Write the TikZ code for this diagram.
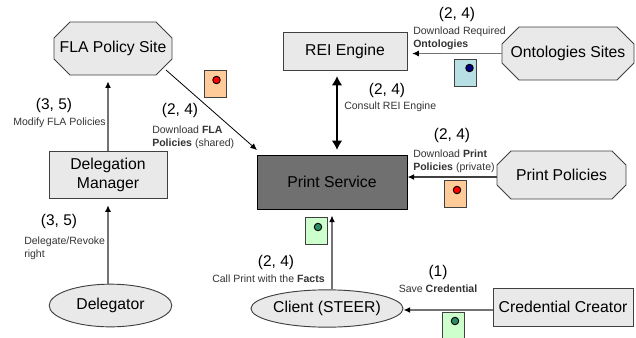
\documentclass[tikz,border=0pt]{standalone}
\usepackage{fontspec}
\setmainfont{Liberation Sans}
\usetikzlibrary{shapes.geometric,arrows.meta}
\definecolor{boxfill}{HTML}{E9E9E9}
\definecolor{edge}{HTML}{404040}
\definecolor{svc}{HTML}{707070}
\definecolor{orangedoc}{HTML}{FFCC99}
\definecolor{bluedoc}{HTML}{B8E0E4}
\definecolor{greendoc}{HTML}{CCFFCC}
\definecolor{greendot}{HTML}{2E8B63}
\definecolor{navydot}{HTML}{000080}
\tikzset{
  x=0.75pt,y=-0.75pt,
  shape base/.style={draw=edge,line width=0.7pt,fill=boxfill,inner sep=0pt,align=center,font=\fontsize{11.8pt}{14pt}\selectfont},
  boxnode/.style={shape base,rectangle,minimum width=#1},
  octline/.style={draw=edge,line width=0.7pt,fill=boxfill},
  octtext/.style={inner sep=0pt,align=center,font=\fontsize{11.8pt}{14pt}\selectfont},
  oval/.style={shape base,ellipse},
  big/.style={font=\fontsize{11.6pt}{14pt}\selectfont,inner sep=0pt},
  small/.style={font=\fontsize{7.9pt}{9.6pt}\selectfont,inner sep=0pt,align=left,text=black!80},
  arrowline/.style={draw=black!55,line width=1.1pt,-{Latex[length=5pt,width=4.5pt,color=black]}},
  thinarrow/.style={draw=black,line width=0.6pt,-{Latex[length=5pt,width=4.5pt,color=black]}},
  bigarrow/.style={draw=black,line width=1.8pt,{Latex[length=7pt,width=8pt]}-{Latex[length=7pt,width=8pt]}},
  docicon/.style={draw=edge,line width=0.7pt,fill=#1,minimum width=16.5pt,minimum height=20.2pt,inner sep=0pt},
  dot/.style={draw=black,line width=0.7pt,fill=#1,circle,minimum size=5.6pt,inner sep=0pt},
}
% name, cx, cy, width, height, chamfer, text (all in reference pixels)
\newcommand{\octanode}[7]{%
  \draw[octline,shift={(#2,#3)}]
    ({-#4/2+#6},{-#5/2}) -- ({#4/2-#6},{-#5/2}) -- ({#4/2},{-#5/2+#6}) -- ({#4/2},{#5/2-#6})
    -- ({#4/2-#6},{#5/2}) -- ({-#4/2+#6},{#5/2}) -- ({-#4/2},{#5/2-#6}) -- ({-#4/2},{-#5/2+#6}) -- cycle;
  \node[octtext,minimum width=#4*0.75pt,minimum height=#5*0.75pt] (#1) at (#2,#3) {#7};
}
\begin{document}
\begin{tikzpicture}
\useasboundingbox (0,0) rectangle (636,337);
% main shapes
\octanode{fla}{113}{48.5}{118}{53}{16}{FLA Policy Site}
\node[boxnode=93pt,minimum height=28.5pt] (rei) at (345,51) {REI Engine};
\octanode{onto}{568}{53.5}{132}{53}{17}{Ontologies Sites}
\node[boxnode=88.5pt,minimum height=35.5pt] (dm) at (108,175) {Delegation\\Manager};
\node[boxnode=112.5pt,minimum height=40.5pt,fill=svc,draw=black] (print) at (332,182) {Print Service};
\octanode{pp}{561.5}{175}{129}{48}{14}{Print Policies}
\node[oval,minimum width=92pt,minimum height=32pt] (dele) at (110.5,305.5) {Delegator};
\node[oval,minimum width=88.5pt,minimum height=28pt] (client) at (327,308.5) {Client (STEER)};
\node[boxnode=105pt,minimum height=28.5pt] (cred) at (563,307) {Credential Creator};
% free arrow ends
\coordinate (flaout) at (166,70);
\coordinate (printin) at (257,150);
\coordinate (reiport) at (337,76);
\coordinate (printtop) at (337,150);
% connectors
\draw[thinarrow] (flaout) -- (printin);
\draw[arrowline,shorten >=4.5pt] (dm.north) -- (dm.north |- fla.south);
\draw[arrowline,shorten >=4.5pt] (dele.north -| dm.south) -- (dm.south);
\draw[bigarrow] (reiport) -- (printtop);
\draw[arrowline,shorten >=3.5pt] (onto.west) -- (onto.west -| rei.east);
\draw[arrowline,black!75] (pp.west |- 0,177) -- (print.east |- 0,177);
\draw[arrowline,shorten >=4.5pt] (print.south |- client.north) -- (print.south);
\draw[arrowline] (cred.west |- 0,310) -- (client.east |- 0,310);
% documents
\node[docicon=orangedoc] (d1) at (215,83.5) {};
\node[dot=red] (d1dot) at (216.5,80) {};
\node[docicon=bluedoc] (d2) at (465,72.5) {};
\node[dot=navydot] (d2dot) at (469.5,68) {};
\node[docicon=orangedoc] (d3) at (455,193.5) {};
\node[dot=red] (d3dot) at (457,190) {};
\node[docicon=greendoc] (d4) at (316,230.5) {};
\node[dot=greendot] (d4dot) at (318,227) {};
\node[docicon=greendoc] (d5) at (453,325.5) {};
\node[dot=greendot] (d5dot) at (455,321) {};
% step numbers
\node[big] (n1) at (54,105) {(3, 5)};
\node[big] (n2) at (180,110) {(2, 4)};
\node[big] (n3) at (457,14) {(2, 4)};
\node[big] (n4) at (387,90) {(2, 4)};
\node[big] (n5) at (452,135) {(2, 4)};
\node[big] (n6) at (59,221) {(3, 5)};
\node[big] (n7) at (276,262) {(2, 4)};
\node[big] (n8) at (438,272) {(1)};
% descriptions
\node[small,anchor=west] (t1) at (13,123) {Modify FLA Policies};
\node[small,anchor=west] (t2) at (152,137.5) {Download \textbf{FLA}\\\textbf{Policies} (shared)};
\node[small,anchor=west] (t3) at (413,38) {Download Required\\\textbf{Ontologies}};
\node[small,anchor=west] (t4) at (344,107) {Consult REI Engine};
\node[small,anchor=west] (t5) at (413,161.5) {Download \textbf{Print}\\\textbf{Policies} (private)};
\node[small,anchor=west] (t6) at (24,248) {Delegate/Revoke\\right};
\node[small,anchor=west] (t7) at (212,279) {Call Print with the \textbf{Facts}};
\node[small] (t8) at (438,289) {Save \textbf{Credential}};
\end{tikzpicture}
\end{document}
